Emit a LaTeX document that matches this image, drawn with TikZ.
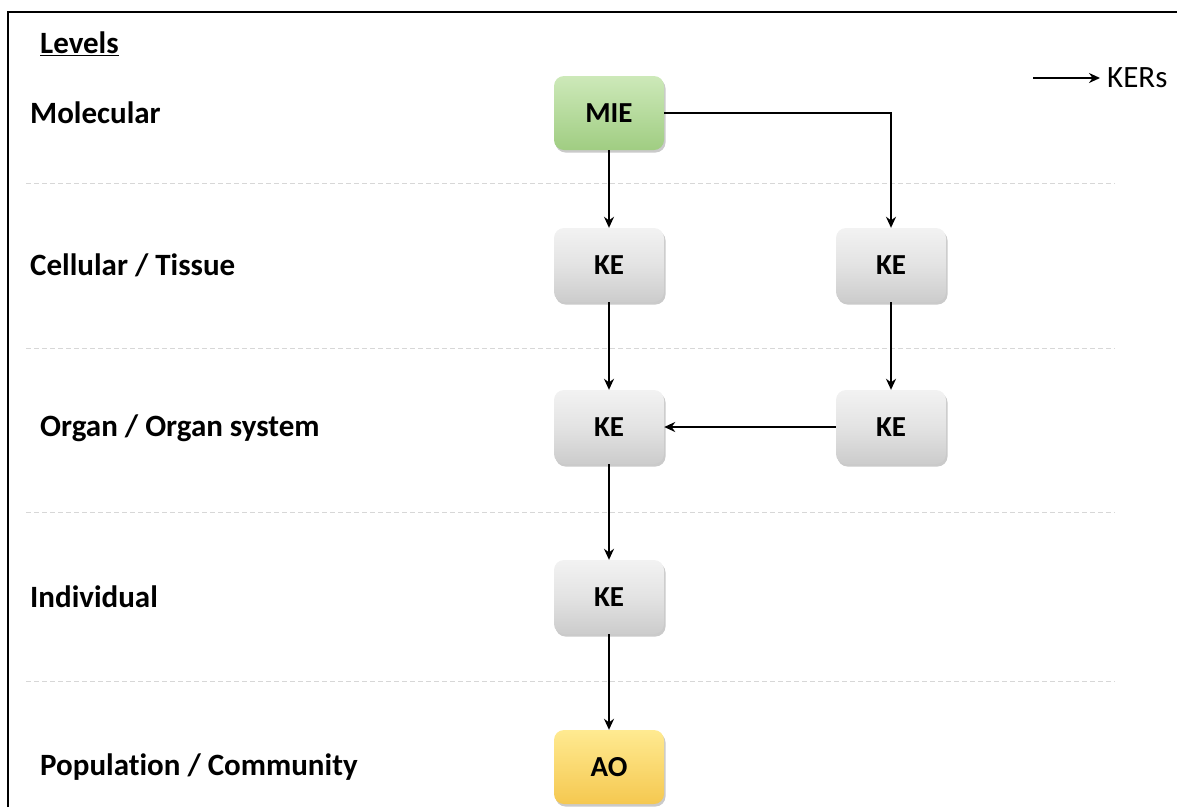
\documentclass[tikz,border=0pt]{standalone}
\usepackage{fontspec}
\setmainfont{Carlito}[Ligatures={NoCommon}]
\usetikzlibrary{arrows.meta,shadows}
\definecolor{dashgray}{RGB}{215,215,215}
\tikzset{
  box/.style={rounded corners=10pt, minimum width=110pt, minimum height=74pt, inner sep=0pt,
    font=\bfseries\fontsize{29}{29}\selectfont, draw=none,
    drop shadow={shadow xshift=1.5pt, shadow yshift=-2.5pt, opacity=0.35, fill=black!60}},
  gray box/.style={box, top color=gray!10, bottom color=gray!40, middle color=gray!22},
  green box/.style={box, top color={rgb,255:red,205;green,233;blue,185}, bottom color={rgb,255:red,160;green,205;blue,130}},
  yellow box/.style={box, top color={rgb,255:red,255;green,234;blue,145}, bottom color={rgb,255:red,245;green,200;blue,80}},
  level/.style={anchor=west, font=\bfseries\fontsize{31}{31}\selectfont, inner sep=0pt},
  sep line/.style={dashgray, line width=1pt, dash pattern=on 5pt off 3pt},
  ker/.style={-{Stealth[length=11pt,width=10pt]}, line width=2.5pt, black}
}
\begin{document}
\begin{tikzpicture}[x=1pt,y=-1pt]
\useasboundingbox (0,0) rectangle (1177,807);
\draw[line width=2.5pt] (8,807) -- (8,12) -- (1177,12);
% separators
\foreach \yy in {183,348,512,681} \draw[sep line] (26,\yy) -- (1115,\yy);
% level labels
\node[level] (lev) at (40,44) {\underline{Levels}};
\node[level] (l1) at (30,113) {Molecular};
\node[level] (l2) at (30,265) {Cellular / Tissue};
\node[level] (l3) at (40,428) {Organ / Organ system};
\node[level] (l4) at (30,597) {Individual};
\node[level] (l5) at (40,767) {Population / Community};
% boxes
\node[green box] (mie) at (609,113) {MIE};
\node[gray box] (ke1) at (609,265) {KE};
\node[gray box] (ke2) at (891,265) {KE};
\node[gray box] (ke3) at (609,427) {KE};
\node[gray box] (ke4) at (891,427) {KE};
\node[gray box] (ke5) at (609,597) {KE};
\node[yellow box] (ao) at (609,767) {AO};
% connectors
\draw[ker] (mie) -- (ke1);
\draw[ker] (mie.east) -| (ke2.north);
\draw[ker] (ke1) -- (ke3);
\draw[ker] (ke2) -- (ke4);
\draw[ker] (ke4) -- (ke3);
\draw[ker] (ke3) -- (ke5);
\draw[ker] (ke5) -- (ao);
% legend
\coordinate (lg1) at (1033,78);
\coordinate (lg2) at (1100,78);
\node[anchor=west, inner sep=0pt, font=\fontsize{31}{31}\selectfont] (kers) at (1107,78) {KERs};
\draw[ker, line width=1.8pt] (lg1) -- (lg2);
\end{tikzpicture}
\end{document}
